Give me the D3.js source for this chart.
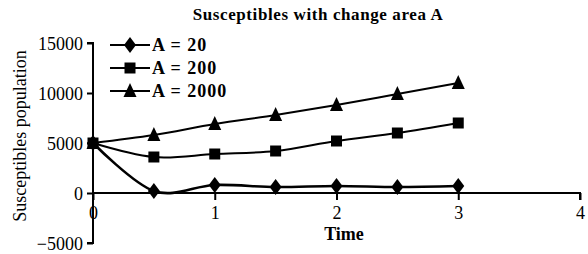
<!DOCTYPE html>
<html>
<head>
<meta charset="utf-8">
<script src="https://cdn.jsdelivr.net/npm/d3@7"></script>
<style>
html,body{margin:0;padding:0;background:#fff;}
</style>
</head>
<body>
<svg id="c" width="588" height="254" font-family="Liberation Serif"></svg>
<script>
const time = [0, 0.5, 1, 1.5, 2, 2.5, 3];
const seriesNames = ["A = 20", "A = 200", "A = 2000"];
const a20 = [5000, 200, 800, 600, 700, 600, 700];
const a200 = [5000, 3600, 3900, 4200, 5200, 6000, 7000];
const a2000 = [5000, 5800, 6900, 7800, 8800, 9900, 11000];
const xTicks = [0, 1, 2, 3, 4];
const yTicks = [-5000, 0, 5000, 10000, 15000];
const title = "Susceptibles with change area A";
const xTitle = "Time";
const yTitle = "Susceptibles population";

const FONT = "Liberation Serif";
const diamond = { draw(ctx) { ctx.moveTo(0, -8); ctx.lineTo(6, 0); ctx.lineTo(0, 8); ctx.lineTo(-6, 0); ctx.closePath(); } };
const square = { draw(ctx) { ctx.rect(-5.5, -5.5, 11, 11); } };
const triangle = { draw(ctx) { ctx.moveTo(0, -8); ctx.lineTo(6.5, 6); ctx.lineTo(-6.5, 6); ctx.closePath(); } };
const symbols = [diamond, square, triangle];

const series = [a20, a200, a2000];
const svg = d3.select("#c");
const x = d3.scaleLinear().domain([0, 4]).range([93, 580]);
const y = d3.scaleLinear().domain([-5000, 15000]).range([243, 43]);

// Y axis
const yAxis = svg.append("g").attr("transform", `translate(${x(0)},0)`)
  .call(d3.axisLeft(y).tickValues(yTicks).tickSize(6).tickPadding(4).tickFormat(d3.format("d")));
yAxis.attr("font-family", FONT).attr("font-size", 18);
yAxis.select(".domain").attr("stroke", "#000").attr("stroke-width", 2).attr("d", `M-6,${y(15000)}H0V${y(-5000)}H-6`);
yAxis.selectAll(".tick line").attr("stroke-width", 2);
yAxis.selectAll("text").attr("dy", "0.34em");

// X axis at y=0
const xAxis = svg.append("g").attr("transform", `translate(0,${y(0)})`)
  .call(d3.axisBottom(x).tickValues(xTicks).tickSize(7).tickPadding(6).tickFormat(d3.format("d")));
xAxis.attr("font-family", FONT).attr("font-size", 18);
xAxis.select(".domain").attr("stroke", "#000").attr("stroke-width", 2).attr("d", `M${x(0)},0H${x(4)}V7`);
xAxis.selectAll(".tick line").attr("stroke-width", 2);

// Lines
const line = d3.line().x((d, i) => x(time[i])).y(d => y(d)).curve(d3.curveCatmullRom.alpha(0));
series.forEach((s, k) => {
  svg.append("path").datum(s).attr("d", line).attr("fill", "none")
    .attr("stroke", "#000").attr("stroke-width", k === 0 ? 2.6 : 2);
});
series.forEach((s, k) => {
  svg.append("g").selectAll("path").data(s).join("path")
    .attr("transform", (d, i) => `translate(${x(time[i])},${y(d)})`)
    .attr("d", d3.symbol().type(symbols[k]))
    .attr("fill", "#000");
});

// Legend
const legY = [45, 68, 91];
seriesNames.forEach((n, k) => {
  const g = svg.append("g").attr("transform", `translate(0,${legY[k]})`);
  g.append("line").attr("x1", 110).attr("x2", 150).attr("stroke", "#000").attr("stroke-width", 2);
  g.append("path").attr("transform", "translate(130,0)")
    .attr("d", d3.symbol().type(symbols[k])).attr("fill", "#000");
  g.append("text").attr("x", 152).attr("dy", "0.35em").attr("font-family", FONT)
    .attr("font-size", 18).attr("font-weight", "bold").attr("letter-spacing", 1).text(n);
});

// Titles
svg.append("text").attr("x", 318).attr("y", 20).attr("text-anchor", "middle").attr("font-family", FONT)
  .attr("font-size", 17).attr("font-weight", "bold").attr("letter-spacing", 0.6).text(title);
svg.append("text").attr("x", 344).attr("y", 240).attr("text-anchor", "middle").attr("font-family", FONT)
  .attr("font-size", 18).attr("font-weight", "bold").text(xTitle);
svg.append("text").attr("transform", "translate(26,136) rotate(-90)").attr("text-anchor", "middle")
  .attr("font-family", FONT).attr("font-size", 18).text(yTitle);
</script>
</body>
</html>
